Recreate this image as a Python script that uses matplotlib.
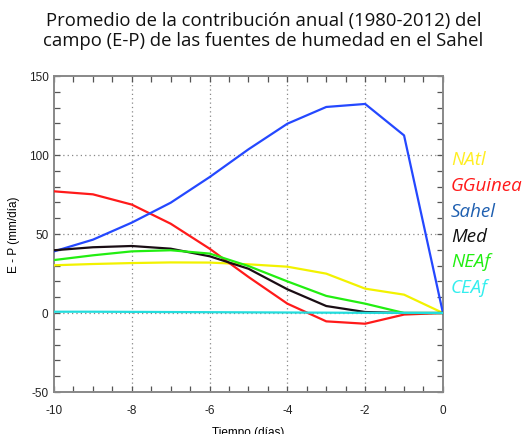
import matplotlib
matplotlib.use("Agg")
import matplotlib.pyplot as plt
from matplotlib.ticker import MultipleLocator

plt.rcParams["axes.unicode_minus"] = False

# Days before arrival and E-P contribution (mm/dia) of each moisture source
days = [-10, -9, -8, -7, -6, -5, -4, -3, -2, -1, 0]
natl = [30.2, 31.0, 31.6, 32.0, 31.9, 30.8, 29.3, 24.9, 15.4, 11.6, 0.0]
gguinea = [77.0, 75.1, 68.6, 56.5, 40.7, 22.8, 5.9, -5.3, -6.8, -1.0, 0.0]
sahel = [39.0, 46.4, 57.2, 69.8, 86.0, 103.6, 119.8, 130.4, 132.3, 112.4, 0.0]
med = [39.7, 41.6, 42.4, 40.7, 35.9, 28.0, 15.0, 4.4, 0.6, 0.0, 0.0]
neaf = [33.5, 36.5, 39.0, 39.7, 37.6, 29.7, 20.0, 10.8, 5.9, 0.0, 0.0]
ceaf = [0.8, 0.8, 0.7, 0.6, 0.5, 0.4, 0.3, 0.2, 0.1, 0.1, 0.0]

names = ["NAtl", "GGuinea", "Sahel", "Med", "NEAf", "CEAf"]
line_colors = ["#f2f200", "#ff1a1a", "#2448ff", "#1a0d14", "#22ee11", "#22dddd"]
text_colors = ["#ffee22", "#ff1a1a", "#1f5fb0", "#111111", "#22ee11", "#33eeee"]

fig = plt.figure(figsize=(5.27, 4.35), dpi=100)
ax = fig.add_axes([0.1025, 0.0966, 0.738, 0.7264])

grid_style = dict(color="#888888", lw=0.9, ls=(0, (1, 2.5)), zorder=1)
for yv in (0, 50, 100):
    ax.axhline(yv, **grid_style)
for xv in (-8, -6, -4, -2):
    ax.axvline(xv, **grid_style)

series = [natl, gguinea, sahel, med, neaf, ceaf]
for vals, c in zip(series, line_colors):
    ax.plot(days, vals, color=c, lw=1.6, zorder=3)

ax.set_xlim(-10, 0)
ax.set_ylim(-50, 150)
ax.xaxis.set_major_locator(MultipleLocator(2))
ax.xaxis.set_minor_locator(MultipleLocator(0.5))
ax.yaxis.set_major_locator(MultipleLocator(50))
ax.yaxis.set_minor_locator(MultipleLocator(10))
ax.tick_params(which="both", direction="in", top=True, right=True,
               length=4, width=0.9, color="#555555",
               labelsize=8.5, labelcolor="#222222")
ax.tick_params(axis="x", pad=9)
ax.tick_params(axis="y", pad=4)
for sp in ax.spines.values():
    sp.set_color("#888888")
    sp.set_linewidth(1.4)

for lab in ax.get_xticklabels() + ax.get_yticklabels():
    lab.set_family("Liberation Sans")

ax.set_xlabel("Tiempo (días)", fontsize=8.5, family="Liberation Sans", labelpad=6.5)
ax.set_ylabel("E - P (mm/día)", fontsize=8.5, family="Liberation Sans", labelpad=6)

fig.text(0.5, 0.972, "Promedio de la contribución anual (1980-2012) del\n"
         "campo (E-P) de las fuentes de humedad en el Sahel",
         ha="center", va="top", fontsize=13.3, family="Open Sans",
         color="#111111", linespacing=1.15)

ys = [160, 186, 212, 237, 262, 288]
for name, c, yp in zip(names, text_colors, ys):
    fig.text(451 / 527, 1 - yp / 435, name, ha="left", va="center",
             fontsize=13.5, style="italic", family="Open Sans", color=c)

fig.savefig("out.png", dpi=100, facecolor="white")
